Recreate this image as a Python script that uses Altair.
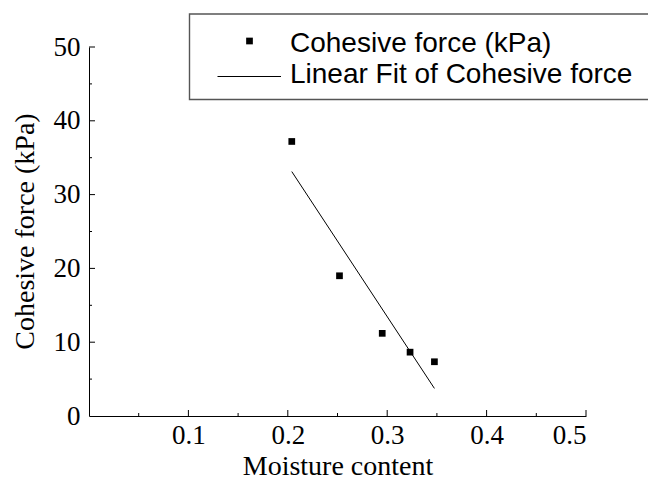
import altair as alt
import pandas as pd

# ---- data ----
moisture = [0.204, 0.252, 0.295, 0.323, 0.3475]
cohesion = [37.2, 19.0, 11.2, 8.65, 7.35]
x_major = [0.1, 0.2, 0.3, 0.4, 0.5]
x_minor = [0.05, 0.15, 0.25, 0.35, 0.45]
y_labels = [0, 10, 20, 30, 40, 50]
y_major = [10, 20, 30, 40, 50]
y_minor = [5, 15, 25, 35, 45]
legend_labels = ["Cohesive force (kPa)", "Linear Fit of Cohesive force"]

W, H = 497, 369
SERIF = "Liberation Serif"
SANS = "Liberation Sans"

df = pd.DataFrame({"x": moisture, "y": cohesion})
one = pd.DataFrame({"a": [0]})

xscale = alt.Scale(domain=[0, 0.5], nice=False, zero=False)
yscale = alt.Scale(domain=[0, 50], nice=False, zero=False)

xaxis = alt.Axis(
    title="Moisture content", values=x_major, format=".1f", ticks=False, grid=False,
    labelFont=SERIF, labelFontSize=27, labelPadding=6, labelColor="black",
    domainColor="black", domainWidth=1,
    titleFont=SERIF, titleFontSize=28, titleFontWeight="normal", titleColor="black",
    titleY=58, titleBaseline="alphabetic",
)
yaxis = alt.Axis(
    title="Cohesive force (kPa)", values=y_labels, format="d", ticks=False, grid=False,
    labelFont=SERIF, labelFontSize=27, labelPadding=9, labelColor="black",
    domainColor="black", domainWidth=1,
    titleFont=SERIF, titleFontSize=28, titleFontWeight="normal", titleColor="black",
    titleX=-56, titleY=184, titleAngle=270, titleBaseline="alphabetic", titleAlign="center",
)

points = alt.Chart(df).mark_point(shape="square", filled=True, size=45, color="black", opacity=1).encode(
    x=alt.X("x:Q", scale=xscale, axis=xaxis),
    y=alt.Y("y:Q", scale=yscale, axis=yaxis),
)

fit = alt.Chart(df).transform_regression("x", "y").mark_line(color="black", strokeWidth=1).encode(
    x=alt.X("x:Q", scale=xscale, axis=xaxis),
    y=alt.Y("y:Q", scale=yscale, axis=yaxis),
)

def xticks(vals, length):
    return alt.Chart(pd.DataFrame({"x": vals})).mark_rule(color="black", strokeWidth=1).encode(
        x=alt.X("x:Q", scale=xscale, axis=xaxis),
        y=alt.value(H), y2=alt.value(H - length),
    )

def yticks(vals, length):
    return alt.Chart(pd.DataFrame({"y": vals})).mark_rule(color="black", strokeWidth=1).encode(
        y=alt.Y("y:Q", scale=yscale, axis=yaxis),
        x=alt.value(0), x2=alt.value(length),
    )

# ---- legend (drawn by hand) ----
leg_box = alt.Chart(one).mark_rect(fill="white", fillOpacity=0, stroke="#555555", strokeWidth=1.4).encode(
    x=alt.value(100.5), x2=alt.value(590), y=alt.value(-33), y2=alt.value(52.5)
)
leg_sym = alt.Chart(one).mark_point(shape="square", filled=True, size=45, color="black", opacity=1).encode(
    x=alt.value(160.5), y=alt.value(-6)
)
leg_line = alt.Chart(one).mark_rule(color="black", strokeWidth=1).encode(
    x=alt.value(128.5), x2=alt.value(192), y=alt.value(29.5)
)
leg_t1 = alt.Chart(one).mark_text(font=SANS, fontSize=28, align="left", baseline="alphabetic", color="black").encode(
    x=alt.value(201), y=alt.value(4.7), text=alt.value(legend_labels[0])
)
leg_t2 = alt.Chart(one).mark_text(font=SANS, fontSize=28, align="left", baseline="alphabetic", color="black").encode(
    x=alt.value(201), y=alt.value(36.3), text=alt.value(legend_labels[1])
)

chart = alt.layer(
    points, fit,
    xticks(x_major, 6), xticks(x_minor, 3), yticks(y_major, 6), yticks(y_minor, 3),
    leg_box, leg_sym, leg_line, leg_t1, leg_t2,
).properties(
    width=W, height=H,
    autosize=alt.AutoSizeParams(type="none"),
    padding={"left": 89, "top": 47, "right": 62, "bottom": 64},
    background="white",
).configure_view(stroke=None)

chart.save("out.html", embed_options={"renderer": "svg", "actions": False})
